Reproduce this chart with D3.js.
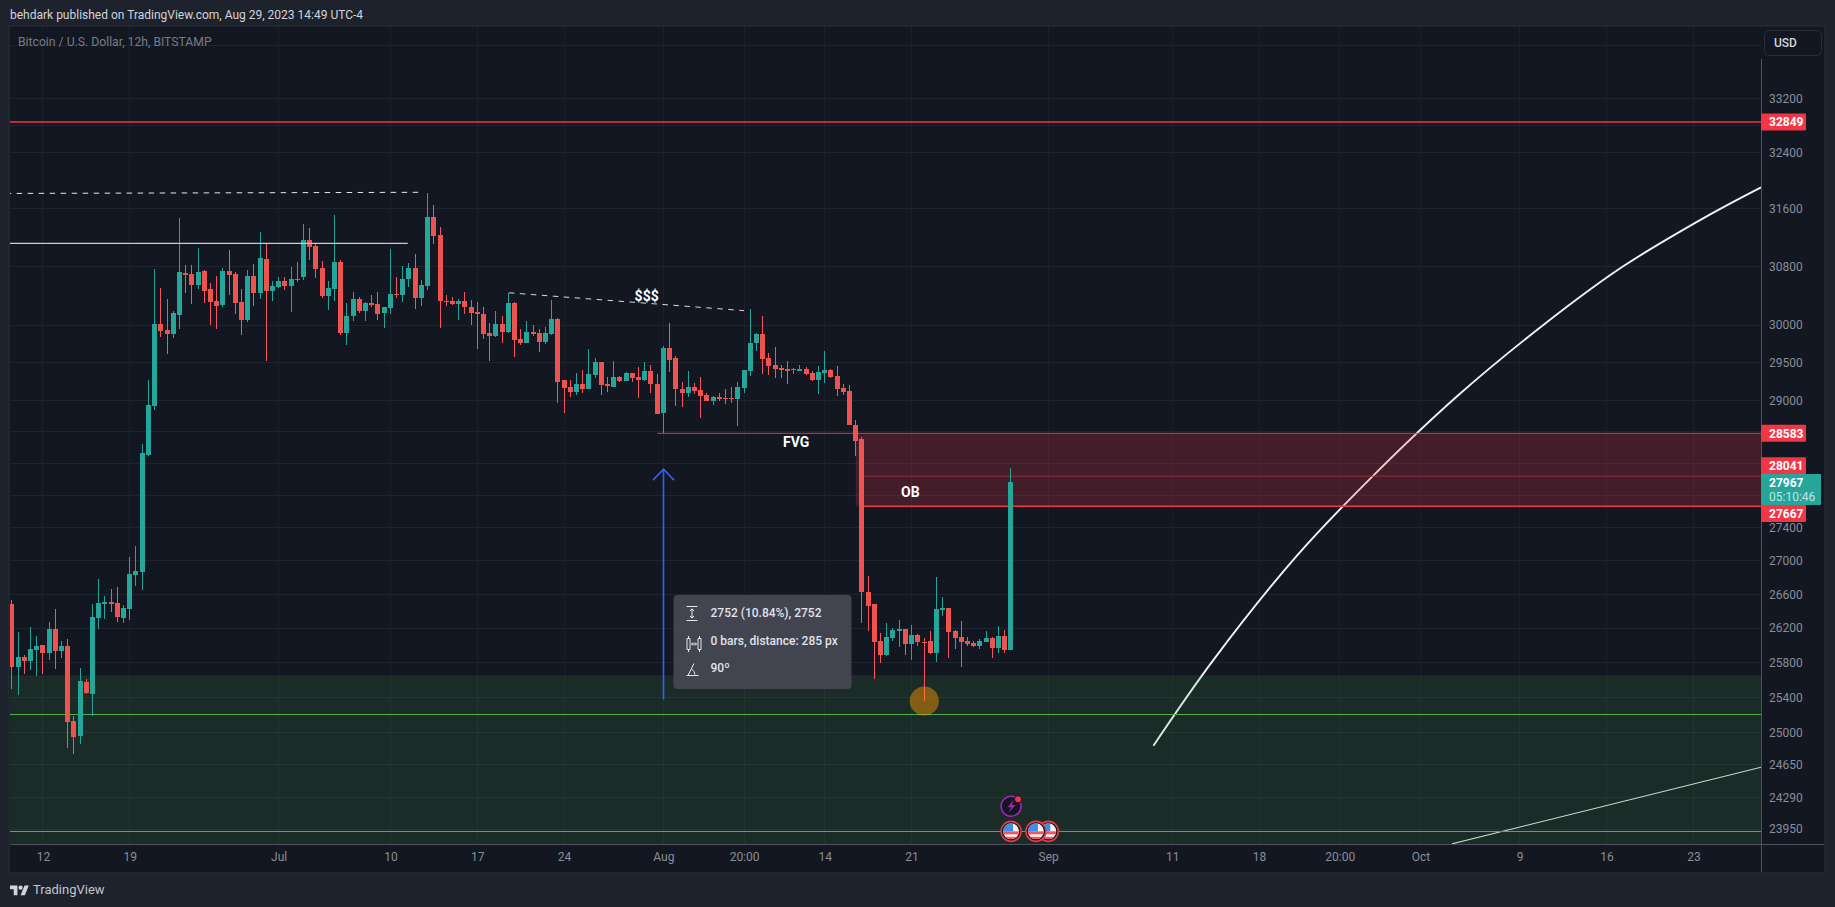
<!DOCTYPE html>
<html><head><meta charset="utf-8">
<script src="https://cdn.jsdelivr.net/npm/d3@7"></script>
<style>
html,body{margin:0;padding:0;background:#1e222d;overflow:hidden}
svg{display:block}
text{font-family:Roboto,"Open Sans",sans-serif}
</style></head><body><div id="c"></div>
<script>
const firstBar=-5;
const opens=[26486,25747,25860,25815,25940,26008,25906,26192,25930,25986,
25130,24972,25575,25439,26323,26486,26510,26500,26323,26425,
26835,26870,28310,28940,30018,29938,29885,30140,30705,30692,
30543,30732,30490,30327,30273,30732,30692,30314,30072,30665,
30435,30900,30463,30517,30598,30530,30611,30647,31165,31085,
30773,30395,30490,30856,29899,30126,30355,30193,30301,30287,
30166,30233,30422,30409,30625,30773,30368,30530,31480,31227,
30328,30328,30287,30324,30243,30175,30148,29895,29855,30013,
29908,30297,29816,29763,29908,29895,29776,29882,30081,29276,
29184,29118,29224,29158,29342,29513,29224,29184,29316,29263,
29368,29316,29276,29395,29224,28847,29697,29566,29158,29105,
29184,29145,29079,29000,29053,29039,29039,29026,29171,29395,
29763,29882,29566,29474,29434,29421,29408,29395,29421,29368,
29276,29368,29408,29329,29171,29132,28694,28514,26624,26480,
26050,25891,26086,26166,26189,26017,26120,26040,26050,25913,
26408,26431,26166,26097,26050,26028,25994,26040,26086,25971,
26109,25948];
const highs=[26533,26158,25884,26215,26110,26008,26273,26425,26055,26078,
25196,25735,25610,26486,26785,26580,26665,26690,26474,27050,
27175,28449,29267,30760,30503,30354,30193,31464,30814,30814,
31054,30746,30570,30665,30773,31026,30719,30490,30746,30827,
31280,31125,30598,30652,30652,30787,30856,31390,31336,31115,
30870,30598,31506,30884,30301,30449,30382,30314,30409,30449,
30247,31040,30652,30800,30842,30964,30611,31830,31650,31345,
30409,30382,30355,30445,30337,30310,30243,30027,30189,30121,
30436,30306,29947,30054,30000,29947,29974,30337,30094,29276,
29276,29368,29408,29684,29566,29513,29316,29526,29329,29382,
29368,29447,29513,29474,29355,29724,30027,29592,29250,29395,
29237,29316,29105,29066,29105,29158,29184,29250,29408,30216,
29895,30121,29632,29711,29474,29526,29434,29474,29447,29395,
29461,29658,29421,29461,29224,29211,28757,28540,26818,26480,
26139,26258,26200,26294,26189,26235,26131,26082,26166,26806,
26565,26431,26177,26280,26097,26050,26074,26166,26097,26223,
26177,28143];
const lows=[25496,25427,25667,25713,25644,25667,25827,25724,25850,24830,
24765,24875,25439,25196,26185,26312,26393,26277,26265,26300,
26700,26655,28290,28888,29845,29608,29833,29952,30435,30287,
30490,30300,30005,29952,30246,30408,30152,29872,30045,30260,
30354,29517,30327,30503,30476,30180,30584,30611,30884,30638,
30368,30207,30328,29873,29728,30058,30166,30058,30247,30072,
29965,30153,30368,30314,30517,30220,30260,30476,31100,29965,
30260,30274,30072,30148,30000,29684,29816,29526,29842,29763,
29895,29579,29737,29763,29855,29645,29750,29868,28974,28847,
29053,29079,29105,29158,29303,29079,29118,29184,29250,29263,
29250,29039,29263,29105,28834,28587,29382,28936,28923,29053,
29092,28783,29000,28949,29000,28962,28974,28681,29105,29329,
29658,29355,29342,29303,29303,29224,29355,29395,29342,29263,
29092,29237,29303,29066,29079,28694,28295,26258,26166,25606,
25800,25880,26050,25983,25891,25834,25994,25358,25902,25811,
26338,25857,25960,25754,25994,25983,25960,26040,25857,25914,
25914,25948];
const closes=[25747,25860,25815,25952,25997,25906,26192,25930,25986,25118,
24960,25587,25450,26335,26500,26510,26486,26335,26440,26845,
26880,28327,28952,30018,29924,29885,30167,30719,30678,30543,
30719,30462,30314,30260,30732,30678,30300,30072,30665,30435,
30913,30462,30530,30598,30530,30625,30625,31165,31066,30760,
30395,30503,30856,29899,30126,30355,30193,30301,30274,30153,
30247,30422,30409,30625,30773,30368,30544,31480,31213,30328,
30314,30287,30328,30243,30162,30148,29882,29855,30013,29908,
30297,29803,29763,29908,29882,29776,29895,30081,29250,29171,
29118,29224,29158,29355,29513,29210,29197,29316,29263,29368,
29303,29276,29395,29224,28834,29697,29539,29158,29105,29184,
29132,29066,29000,29053,29026,29026,29026,29184,29408,29763,
29882,29553,29461,29421,29408,29395,29421,29421,29355,29276,
29382,29408,29316,29158,29118,28694,28488,26624,26455,26040,
25891,26097,26177,26189,26017,26120,26040,26025,25913,26420,
26431,26154,26086,26040,26017,25994,26050,26086,25971,26109,
25948,27971];

const priceTicks=[33200,32400,31600,30800,30000,29500,29000,27400,27000,26600,26200,25800,25400,25000,24650,24290,23950];
const hiddenGridPrices=[34000,32800,28600,28200,27800];
const timeTickBars=[0,14,38,56,70,84,100,113,126,140,162,182,196,209,222,238,252,266];
const timeTickLabels=["12","19","Jul","10","17","24","Aug","20:00","14","21","Sep","11","18","20:00","Oct","9","16","23"];

const levelPrices=[32849,28583,28041,27667];
const levelStarts=[-6,99,132,132];
const levelWidths=[1.5,1,1,1.6];
const levelColors=["#f23645","#c8404f","#8f2f3d","#f23645"];
const levelLabelShift=[0,0,-10.5,7.3];

const fvgZone=[131,28583,27667];
const greenZone=[25652,23700];
const greenLines=[25203,23925];

const dashBars=[-6,60.9];
const dashPrices=[31818,31834];
const solidBars=[-6,58.8];
const solidPrice=31115;
const sssBars=[75.1,113];
const sssPrices=[30436,30194];

const curveBars=[178.97,188.5,202.1,214.4,228,241.6,254.5,268.7,276.9];
const curvePrices=[24858,25816,27062,28048,29067,29988,30788,31521,31905];
const thinBars=[227.1,276.9];
const thinPrices=[23792,24620];

const arrowBar=100, arrowPrices=[25377,28129];
const annotations=[["$$$",97.3,30391],["FVG",121.4,28467],["OB",139.8,27848]];
const tipLines=["2752 (10.84%), 2752","0 bars, distance: 285 px","90º"];
const markerBar=142, markerPrice=25360;
const flagBars=[162,160,156], flagPrice=23925;
const boltBar=156, boltPrice=24194;
const lastPrice="27967", countdown="05:10:46";

const W=1835,H=907,L=10,T=27,R=1761,B=844,PR=1824,PB=872;
const x=d3.scaleLinear().domain([0,276.92]).range([42.9,1761.2]);
const y=d3.scaleLog().domain([23950,33200]).range([829,98.3]);
const bg="#131722",outer="#1e222d",red="#ef5350",redWick="#f7525f",green="#26a69a";

const svg=d3.select("#c").append("svg").attr("width",W).attr("height",H);
svg.append("rect").attr("width",W).attr("height",H).attr("fill",outer);
svg.append("rect").attr("x",L-1).attr("y",T-1).attr("width",PR-L+2).attr("height",PB-T+2).attr("fill",bg).attr("stroke","#2a2e39");
const defs=svg.append("defs");
defs.append("clipPath").attr("id","plot").append("rect").attr("x",L).attr("y",T).attr("width",R-L).attr("height",B-T);

const plot=svg.append("g").attr("clip-path","url(#plot)");
const crisp=s=>s.attr("shape-rendering","crispEdges");

// grid
crisp(plot.append("g").selectAll("line").data(priceTicks.concat(hiddenGridPrices)).join("line")
 .attr("x1",L).attr("x2",R).attr("y1",d=>Math.floor(y(d))+.5).attr("y2",d=>Math.floor(y(d))+.5)
 .attr("stroke","#20242f"));
crisp(plot.append("g").selectAll("line").data(timeTickBars).join("line")
 .attr("y1",T).attr("y2",B).attr("x1",d=>Math.floor(x(d))+.5).attr("x2",d=>Math.floor(x(d))+.5)
 .attr("stroke","#1c202b"));

// curve under the zones
const line=d3.line().x(d=>x(d[0])).y(d=>y(d[1]));
plot.append("path").datum(curveBars.map((b,i)=>[b,curvePrices[i]]))
 .attr("d",line.curve(d3.curveCatmullRom.alpha(.5))).attr("fill","none").attr("stroke","#f0f3fa").attr("stroke-width",1.9);
line.curve(d3.curveLinear);
plot.append("path").datum(thinBars.map((b,i)=>[b,thinPrices[i]])).attr("d",line).attr("fill","none").attr("stroke","#e0e3eb").attr("stroke-width",1.1);

// zones
plot.append("rect").attr("x",L).attr("width",R-L).attr("y",y(greenZone[0])).attr("height",y(greenZone[1])-y(greenZone[0])).attr("fill","rgba(76,175,80,.14)");
plot.append("rect").attr("x",x(fvgZone[0])).attr("width",R-x(fvgZone[0])).attr("y",y(fvgZone[1])).attr("height",y(fvgZone[2])-y(fvgZone[1])).attr("fill","rgba(242,54,69,.22)");

// green + red levels
crisp(plot.append("g").selectAll("line").data(greenLines).join("line")
 .attr("x1",L).attr("x2",R).attr("y1",d=>Math.floor(y(d))+.5).attr("y2",d=>Math.floor(y(d))+.5).attr("stroke","#4caf50"));
plot.append("g").selectAll("line").data(levelPrices).join("line")
 .attr("x1",(d,i)=>x(levelStarts[i])).attr("x2",R).attr("y1",d=>y(d)).attr("y2",d=>y(d))
 .attr("stroke",(d,i)=>levelColors[i]).attr("stroke-width",(d,i)=>levelWidths[i]);

// candles
const candles=plot.append("g").selectAll("g").data(opens.map((o,i)=>({i:i+firstBar,o,h:highs[i],l:lows[i],c:closes[i]}))).join("g");
crisp(candles.append("rect").attr("x",d=>Math.floor(x(d.i))).attr("width",1)
 .attr("y",d=>Math.round(y(d.h))).attr("height",d=>Math.max(1,Math.round(y(d.l))-Math.round(y(d.h))))
 .attr("fill",d=>d.c>=d.o?green:redWick));
crisp(candles.append("rect").attr("x",d=>Math.floor(x(d.i))-2).attr("width",5)
 .attr("y",d=>Math.round(y(Math.max(d.o,d.c)))).attr("height",d=>Math.max(1,Math.round(y(Math.min(d.o,d.c)))-Math.round(y(Math.max(d.o,d.c)))))
 .attr("fill",d=>d.c>=d.o?green:red));

// drawings
plot.append("line").attr("x1",x(dashBars[0])).attr("x2",x(dashBars[1])).attr("y1",y(dashPrices[0])).attr("y2",y(dashPrices[1]))
 .attr("stroke","#e6e8ee").attr("stroke-width",1).attr("stroke-dasharray","5.5 5.5");
plot.append("line").attr("x1",x(solidBars[0])).attr("x2",x(solidBars[1])).attr("y1",y(solidPrice)).attr("y2",y(solidPrice)+.01)
 .attr("stroke","#c9cbd0").attr("stroke-width",1.3);
plot.append("line").attr("x1",x(sssBars[0])).attr("x2",x(sssBars[1])).attr("y1",y(sssPrices[0])).attr("y2",y(sssPrices[1]))
 .attr("stroke","#d8dade").attr("stroke-width",1).attr("stroke-dasharray","5.5 5.5");

plot.append("g").selectAll("text").data(annotations).join("text")
 .attr("x",d=>x(d[1])).attr("y",d=>y(d[2])).attr("dy","0.36em").attr("text-anchor","middle")
 .attr("fill","#fff").attr("font-size",14).attr("font-weight",700).text(d=>d[0]);

// arrow
const ax=Math.floor(x(arrowBar))+.5, at=y(arrowPrices[1]), ab=y(arrowPrices[0]);
plot.append("line").attr("x1",ax).attr("x2",ax).attr("y1",at).attr("y2",ab).attr("stroke","#2962ff").attr("stroke-width",1.6);
plot.append("path").attr("d",d3.line()([[ax-10.5,at+11],[ax,at],[ax+10.5,at+11]])).attr("fill","none").attr("stroke","#2962ff").attr("stroke-width",1.6);

// gold marker
plot.append("circle").attr("cx",x(markerBar)+.3).attr("cy",y(markerPrice)).attr("r",14.6).attr("fill","#ff9800").attr("fill-opacity",.45);

// tooltip
const tip=svg.append("g").attr("transform",`translate(${ax+10},595)`);
tip.append("rect").attr("width",178).attr("height",94).attr("rx",4).attr("fill","#42444f");
tip.selectAll("text").data(tipLines).join("text").attr("x",37).attr("y",(d,i)=>[21.8,50,76.8][i])
 .attr("fill","#e0e3eb").attr("font-size",12).attr("font-weight",500).text(d=>d);
const icon=tip.append("g").attr("fill","none").attr("stroke","#e6e8ee").attr("stroke-width",1);
icon.append("path").attr("d","M13 11.5h11M13 25.5h11M18.5 14v9M16.5 16l2-2.2 2 2.2M16.5 21l2 2.2 2-2.2");
icon.append("path").attr("d","M13.5 43.5h3v11h-3zM24.5 43.5h3v11h-3zM15 41v2M15 55v2M26 41v2M26 55v2M18 49h5M19.5 47.5L18 49l1.5 1.5M21.5 47.5L23 49l-1.5 1.5");
icon.append("path").attr("d","M13 80.5h12M14.5 80.5L20.5 68.5M18.5 74.5c1.8.8 2.6 3 2.8 5");

// event icons
const flagG=plot.append("g").selectAll("g").data(flagBars).join("g")
 .attr("transform",d=>`translate(${x(d)+.2},${y(flagPrice)})`);
flagG.each(function(d,k){
  const g=d3.select(this), id="fc"+k;
  defs.append("clipPath").attr("id",id).append("circle").attr("r",8);
  g.append("circle").attr("r",10).attr("fill",bg).attr("stroke","#f23645").attr("stroke-width",1.6);
  const f=g.append("g").attr("clip-path",`url(#${id})`);
  f.append("rect").attr("x",-8).attr("y",-8).attr("width",16).attr("height",16).attr("fill","#f5f5f7");
  f.append("rect").attr("x",-8).attr("y",0).attr("width",16).attr("height",3).attr("fill","#f0575f");
  f.append("rect").attr("x",-8).attr("y",5.5).attr("width",16).attr("height",3).attr("fill","#f0575f");
  f.append("rect").attr("x",-8).attr("y",-8).attr("width",10).attr("height",8).attr("fill","#3d8fe8");
});
const bolt=plot.append("g").attr("transform",`translate(${x(boltBar)+.2},${y(boltPrice)})`);
bolt.append("circle").attr("r",10).attr("fill",bg).attr("stroke","#9c27b0").attr("stroke-width",1.6);
bolt.append("path").attr("d","M2.5-6.5L-3.5 1H0L-2.5 6.5L4.5-1.2H0.8Z").attr("fill","#9c27b0");
bolt.append("circle").attr("cx",7).attr("cy",-7).attr("r",3.6).attr("fill","#f23645").attr("stroke",bg).attr("stroke-width",1);

// axis lines
const AXC="#50535e";
crisp(svg.append("line").attr("x1",L).attr("x2",PR).attr("y1",B+.5).attr("y2",B+.5).attr("stroke",AXC));
crisp(svg.append("line").attr("x1",R+.5).attr("x2",R+.5).attr("y1",59).attr("y2",PB).attr("stroke",AXC));

// price axis
const pa=svg.append("g").attr("transform",`translate(${R},0)`).call(d3.axisRight(y).tickValues(priceTicks).tickSize(0).tickPadding(8).tickFormat(d3.format("d")));
pa.select(".domain").remove();
pa.selectAll("text").attr("fill","#8a8d97").attr("font-size",12).attr("font-family","Roboto");

// time axis
const ta=svg.append("g").attr("transform",`translate(0,${B})`).call(d3.axisBottom(x).tickValues(timeTickBars).tickSize(0).tickPadding(8).tickFormat(d=>timeTickLabels[timeTickBars.indexOf(d)]));
ta.select(".domain").remove();
ta.selectAll("text").attr("fill","#8a8d97").attr("font-size",12).attr("font-family","Roboto");

// price labels
const lab=svg.append("g").selectAll("g").data(levelPrices).join("g");
lab.append("rect").attr("x",R).attr("width",45).attr("height",17).attr("rx",1).attr("y",(d,i)=>y(d)+levelLabelShift[i]-8.5).attr("fill","#f23645");
lab.append("text").attr("x",R+8).attr("y",(d,i)=>y(d)+levelLabelShift[i]).attr("dy","0.36em").attr("fill","#fff").attr("font-size",12).attr("font-weight",700).text(d=>d);
svg.append("rect").attr("x",R).attr("y",474).attr("width",60).attr("height",31).attr("rx",1).attr("fill",green);
svg.append("text").attr("x",R+8).attr("y",482.3).attr("dy","0.36em").attr("fill","#fff").attr("font-size",12).attr("font-weight",700).text(lastPrice);
svg.append("text").attr("x",R+8).attr("y",497).attr("dy","0.36em").attr("fill","#fff").attr("fill-opacity",.72).attr("font-size",12).text(countdown);

// USD button
svg.append("rect").attr("x",1764.5).attr("y",30.5).attr("width",57).attr("height",25).attr("rx",5).attr("fill",bg).attr("stroke","#2a2e39");
svg.append("text").attr("x",1774).attr("y",43).attr("dy","0.36em").attr("fill","#d1d4dc").attr("font-size",12).attr("font-weight",500).text("USD");

// headers
svg.append("text").attr("x",10).attr("y",15).attr("dy","0.36em").attr("fill","#d1d4dc").attr("font-size",12).text("behdark published on TradingView.com, Aug 29, 2023 14:49 UTC-4");
svg.append("text").attr("x",18).attr("y",41.5).attr("dy","0.36em").attr("fill","#787b86").attr("font-size",12.2).text("Bitcoin / U.S. Dollar, 12h, BITSTAMP");

// logo
const logo=svg.append("g").attr("transform","translate(10,883.5) scale(.53)").attr("fill","#d1d4dc");
logo.append("path").attr("d","M14 22H7V11H0V4h14v18zM28 22h-8l7.5-18h8L28 22z");
logo.append("circle").attr("cx",20).attr("cy",8).attr("r",4);
svg.append("text").attr("x",33).attr("y",889.5).attr("dy","0.36em").attr("fill","#c3c6ce").attr("font-size",13).text("TradingView");
</script></body></html>
